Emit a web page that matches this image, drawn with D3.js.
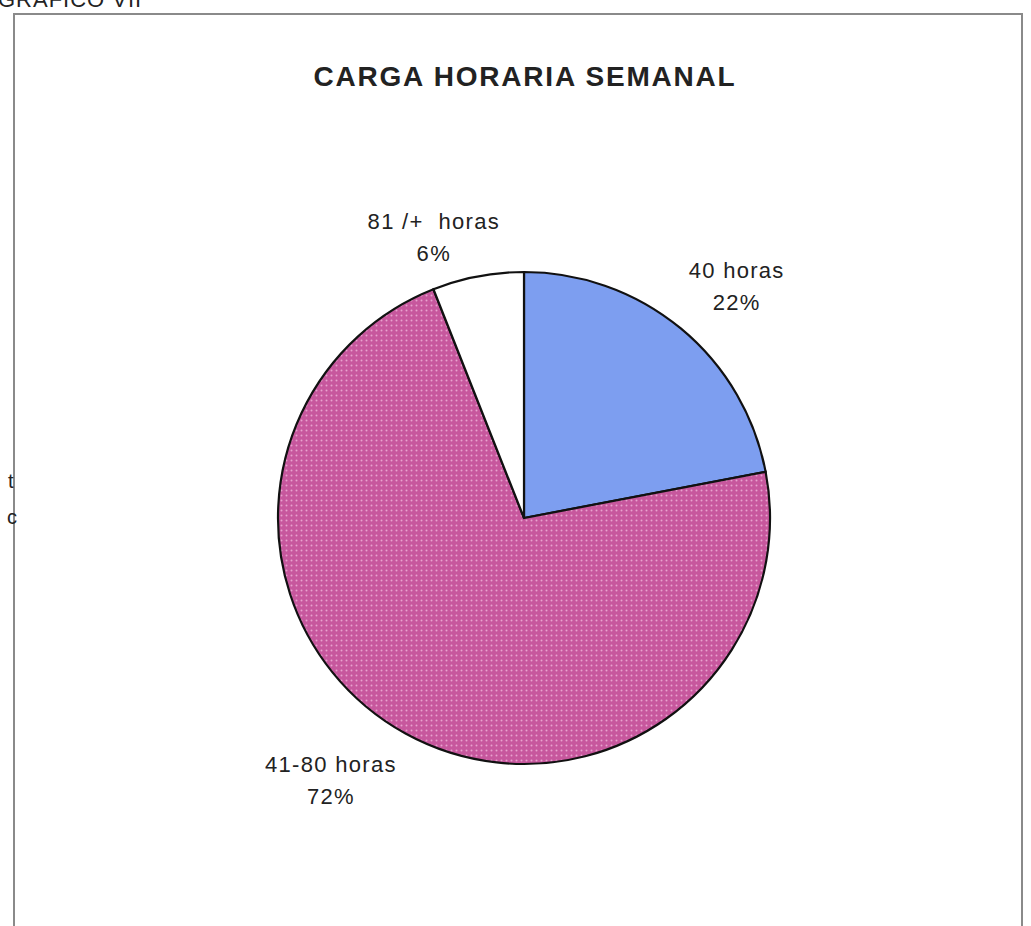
<!DOCTYPE html>
<html lang="en">
<head>
<meta charset="utf-8">
<script src="https://d3js.org/d3.v7.min.js"></script>
<style>
  body { margin: 0; background: #fff; overflow: hidden; }
  text { font-family: "Liberation Sans", Arial, sans-serif; fill: #222; white-space: pre; }
</style>
</head>
<body>
<script>
  // chart data
  var categories = ["40 horas", "41-80 horas", "81 /+  horas"];
  var values = [22, 72, 6];
  var pctLabels = ["22%", "72%", "6%"];
  var colors = ["#7d9ef0", "url(#dots)", "#ffffff"];

  var width = 1031, height = 926;
  var cx = 524, cy = 518, r = 246;

  var svg = d3.select("body").append("svg")
    .attr("width", width).attr("height", height);

  // dotted pink fill like the scanned print
  var pat = svg.append("defs").append("pattern")
    .attr("id", "dots").attr("patternUnits", "userSpaceOnUse")
    .attr("width", 5).attr("height", 5);
  pat.append("rect").attr("width", 5).attr("height", 5).attr("fill", "#c7579d");
  pat.append("circle").attr("cx", 2.5).attr("cy", 2.5).attr("r", 1)
    .attr("fill", "#e8a2cf");

  // heading cut by the page top
  svg.append("text").attr("x", -2).attr("y", 7)
    .style("font-size", "22px").style("letter-spacing", "1px").text("GRAFICO VII");

  // frame
  svg.append("rect").attr("x", 14).attr("y", 14)
    .attr("width", 1008).attr("height", 950)
    .attr("fill", "none").attr("stroke", "#8a8a8a").attr("stroke-width", 2);

  // stray letters at left edge
  svg.append("text").attr("x", 8).attr("y", 488).style("font-size", "20px").text("t");
  svg.append("text").attr("x", 7).attr("y", 524).style("font-size", "20px").text("c");

  svg.append("text").attr("x", 525).attr("y", 86)
    .attr("text-anchor", "middle")
    .style("font-size", "28px").style("font-weight", "bold")
    .style("letter-spacing", "1.8px")
    .text("CARGA HORARIA SEMANAL");

  var pie = d3.pie().sort(null).value(function(d) { return d; });
  var arc = d3.arc().innerRadius(0).outerRadius(r);
  var arcs = pie(values);

  var g = svg.append("g").attr("transform", "translate(" + cx + "," + cy + ")");
  g.selectAll("path").data(arcs).enter().append("path")
    .attr("d", arc)
    .attr("fill", function(d, i) { return colors[i]; })
    .attr("stroke", "#111").attr("stroke-width", 2.2);

  // label placement (radius, angle tweak) per slice
  var labelPos = [[316, 0.047], [324, 0.136], [297, -0.12]];
  arcs.forEach(function(d, i) {
    var a = (d.startAngle + d.endAngle) / 2 + labelPos[i][1];
    var lx = Math.sin(a) * labelPos[i][0];
    var ly = -Math.cos(a) * labelPos[i][0];
    var t = g.append("text").attr("text-anchor", "middle")
      .attr("transform", "translate(" + lx + "," + ly + ")")
      .style("font-size", "22px").style("letter-spacing", "1.3px");
    t.append("tspan").attr("x", 0).attr("y", -6).text(categories[i]);
    t.append("tspan").attr("x", 0).attr("y", 26).text(pctLabels[i]);
  });
</script>
</body>
</html>
